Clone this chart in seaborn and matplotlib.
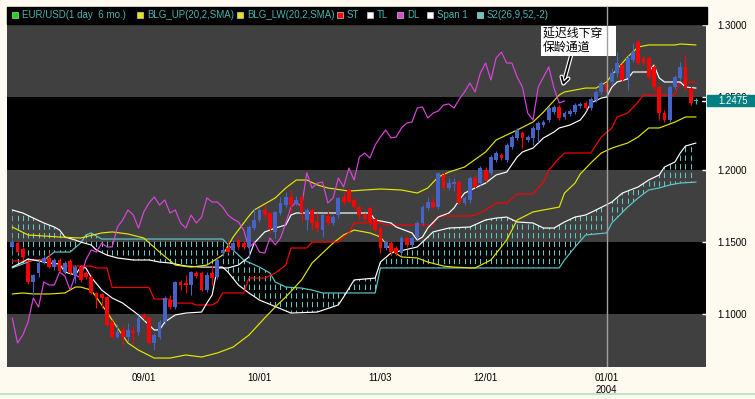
import numpy as np
import pandas as pd
import matplotlib
matplotlib.use("Agg")
import matplotlib.pyplot as plt
import seaborn as sns
from matplotlib.path import Path
from matplotlib.patches import Rectangle
from matplotlib.lines import Line2D
from matplotlib.transforms import Bbox
import matplotlib.patheffects as pe

W, H = 755, 399

# ---- data -------------------------------------------------------------
days = pd.bdate_range("2003-07-28", "2004-01-26")
tick_dates = ["2003-09-01", "2003-10-01", "2003-11-03", "2003-12-01", "2004-01-01"]
tick_labels = ["09/01", "10/01", "11/03", "12/01", "01/01\n2004"]
price_ticks = [1.10, 1.15, 1.20, 1.25, 1.30]
last_price = 1.2475
lag = 25

open_ = [1.1465, 1.1492, 1.1451, 1.1354, 1.1223, 1.1285, 1.1361, 1.1389, 1.1326, 1.1375,
         1.1292, 1.1368, 1.1271, 1.1326, 1.1285, 1.1257, 1.1147, 1.1140, 1.1119, 1.0946,
         1.0842, 1.0891, 1.0842, 1.0884, 1.0877, 1.0995, 1.0974, 1.0801, 1.0842, 1.0946,
         1.1098, 1.1050, 1.1223, 1.1216, 1.1202, 1.1285, 1.1285, 1.1167, 1.1285, 1.1257,
         1.1423, 1.1458, 1.1444, 1.1513, 1.1492, 1.1465, 1.1596, 1.1652, 1.1721, 1.1700,
         1.1569, 1.1700, 1.1755, 1.1811, 1.1769, 1.1811, 1.1652, 1.1721, 1.1638, 1.1582,
         1.1679, 1.1631, 1.1686, 1.1811, 1.1859, 1.1790, 1.1741, 1.1686, 1.1735, 1.1658,
         1.1596, 1.1458, 1.1492, 1.1458, 1.1423, 1.1527, 1.1479, 1.1534, 1.1631, 1.1735,
         1.1776, 1.1741, 1.1963, 1.1873, 1.1901, 1.1914, 1.1769, 1.1790, 1.1942, 1.1907,
         1.1997, 1.1977, 1.2066, 1.2101, 1.2066, 1.2156, 1.2219, 1.2253, 1.2205, 1.2219,
         1.2274, 1.2308, 1.2343, 1.2398, 1.2433, 1.2364, 1.2385, 1.2398, 1.2440, 1.2461,
         1.2426, 1.2481, 1.2537, 1.2599, 1.2606, 1.2668, 1.2723, 1.2634, 1.2758, 1.2883,
         1.2772, 1.2772, 1.2710, 1.2571, 1.2391, 1.2343, 1.2571, 1.2634, 1.2710, 1.2564,
         1.2474]
high = [1.1520, 1.1513, 1.1465, 1.1368, 1.1278, 1.1375, 1.1403, 1.1430, 1.1389, 1.1389,
        1.1368, 1.1382, 1.1340, 1.1340, 1.1299, 1.1271, 1.1153, 1.1147, 1.1126, 1.0960,
        1.0932, 1.0925, 1.0939, 1.0925, 1.0995, 1.1008, 1.0988, 1.0870, 1.0960, 1.1126,
        1.1133, 1.1230, 1.1237, 1.1271, 1.1299, 1.1299, 1.1299, 1.1292, 1.1340, 1.1389,
        1.1472, 1.1513, 1.1513, 1.1534, 1.1506, 1.1617, 1.1735, 1.1735, 1.1755, 1.1707,
        1.1714, 1.1811, 1.1845, 1.1859, 1.1818, 1.1824, 1.1735, 1.1741, 1.1700, 1.1700,
        1.1721, 1.1686, 1.1811, 1.1845, 1.1873, 1.1804, 1.1755, 1.1700, 1.1748, 1.1672,
        1.1610, 1.1513, 1.1506, 1.1472, 1.1541, 1.1541, 1.1541, 1.1645, 1.1755, 1.1811,
        1.1811, 1.1983, 1.1983, 1.1942, 1.1942, 1.1928, 1.1818, 1.1956, 1.1963, 1.2025,
        1.2018, 1.2101, 1.2129, 1.2115, 1.2184, 1.2239, 1.2288, 1.2267, 1.2239, 1.2302,
        1.2336, 1.2343, 1.2440, 1.2447, 1.2447, 1.2405, 1.2419, 1.2461, 1.2468, 1.2474,
        1.2502, 1.2551, 1.2613, 1.2620, 1.2703, 1.2813, 1.2737, 1.2793, 1.2876, 1.2903,
        1.2786, 1.2786, 1.2723, 1.2585, 1.2412, 1.2585, 1.2654, 1.2744, 1.2793, 1.2578,
        1.2495]
low = [1.1444, 1.1423, 1.1375, 1.1209, 1.1133, 1.1257, 1.1347, 1.1320, 1.1306, 1.1292,
       1.1278, 1.1278, 1.1216, 1.1223, 1.1243, 1.1140, 1.1043, 1.1043, 1.0918, 1.0835,
       1.0835, 1.0787, 1.0808, 1.0794, 1.0856, 1.0960, 1.0794, 1.0752, 1.0829, 1.0932,
       1.1036, 1.1036, 1.1167, 1.1147, 1.1133, 1.1250, 1.1160, 1.1153, 1.1202, 1.1243,
       1.1403, 1.1423, 1.1430, 1.1451, 1.1451, 1.1389, 1.1582, 1.1638, 1.1665, 1.1562,
       1.1527, 1.1686, 1.1741, 1.1700, 1.1755, 1.1638, 1.1582, 1.1582, 1.1569, 1.1534,
       1.1617, 1.1617, 1.1665, 1.1755, 1.1769, 1.1728, 1.1652, 1.1645, 1.1610, 1.1569,
       1.1423, 1.1444, 1.1409, 1.1409, 1.1409, 1.1465, 1.1465, 1.1520, 1.1617, 1.1721,
       1.1735, 1.1728, 1.1859, 1.1859, 1.1852, 1.1762, 1.1755, 1.1769, 1.1873, 1.1894,
       1.1914, 1.1963, 1.2053, 1.2066, 1.2053, 1.2143, 1.2205, 1.2149, 1.2191, 1.2170,
       1.2191, 1.2295, 1.2329, 1.2385, 1.2343, 1.2350, 1.2371, 1.2385, 1.2426, 1.2412,
       1.2412, 1.2468, 1.2523, 1.2523, 1.2585, 1.2640, 1.2606, 1.2551, 1.2744, 1.2723,
       1.2723, 1.2620, 1.2551, 1.2343, 1.2329, 1.2329, 1.2557, 1.2620, 1.2551, 1.2447,
       1.2454]
close = [1.1499, 1.1430, 1.1396, 1.1223, 1.1271, 1.1354, 1.1389, 1.1326, 1.1375, 1.1299,
         1.1354, 1.1285, 1.1326, 1.1237, 1.1257, 1.1147, 1.1112, 1.1112, 1.0925, 1.0842,
         1.0877, 1.0842, 1.0891, 1.0870, 1.0974, 1.0974, 1.0801, 1.0856, 1.0946, 1.1112,
         1.1050, 1.1223, 1.1202, 1.1202, 1.1292, 1.1264, 1.1167, 1.1271, 1.1250, 1.1375,
         1.1444, 1.1430, 1.1492, 1.1465, 1.1465, 1.1603, 1.1652, 1.1721, 1.1686, 1.1596,
         1.1707, 1.1769, 1.1811, 1.1755, 1.1790, 1.1700, 1.1721, 1.1631, 1.1596, 1.1686,
         1.1631, 1.1672, 1.1804, 1.1776, 1.1776, 1.1741, 1.1686, 1.1658, 1.1638, 1.1582,
         1.1458, 1.1499, 1.1430, 1.1423, 1.1527, 1.1479, 1.1527, 1.1631, 1.1741, 1.1776,
         1.1741, 1.1977, 1.1873, 1.1907, 1.1914, 1.1769, 1.1804, 1.1942, 1.1880, 1.2011,
         1.1928, 1.2087, 1.2115, 1.2080, 1.2170, 1.2226, 1.2274, 1.2219, 1.2226, 1.2288,
         1.2322, 1.2329, 1.2426, 1.2433, 1.2357, 1.2391, 1.2405, 1.2447, 1.2454, 1.2426,
         1.2488, 1.2537, 1.2599, 1.2537, 1.2668, 1.2737, 1.2620, 1.2772, 1.2813, 1.2737,
         1.2737, 1.2640, 1.2571, 1.2391, 1.2343, 1.2571, 1.2640, 1.2710, 1.2564, 1.2461,
         1.2475]

# indicator lines, read as (day index, price) vertices
up_day = [0, 3, 9, 13, 17, 19, 22, 25, 28, 31, 34, 37, 40, 42, 45, 46, 50, 52, 54, 56,
          58, 60, 64, 70, 74, 77, 79, 81, 83, 86, 90, 92, 96, 99, 101, 104, 105, 109, 111, 113,
          114, 117, 119, 121, 126, 127, 130]
up_val = [1.1603, 1.1548, 1.1534, 1.1527, 1.1562, 1.1569, 1.1555, 1.1527, 1.1430, 1.1340,
          1.1326, 1.1340, 1.1409, 1.1534, 1.1679, 1.1721, 1.1804, 1.1873, 1.1928, 1.1928,
          1.1894, 1.1873, 1.1852, 1.1866, 1.1859, 1.1838, 1.1873, 1.1949, 1.1983, 1.2018,
          1.2122, 1.2205, 1.2274, 1.2329, 1.2398, 1.2516, 1.2537, 1.2564, 1.2564, 1.2606,
          1.2654, 1.2779, 1.2848, 1.2862, 1.2862, 1.2869, 1.2862]

lw_day = [0, 2, 4, 7, 10, 12, 13, 15, 18, 20, 22, 24, 27, 30, 33, 36, 39, 42, 43, 45,
          48, 50, 52, 55, 57, 59, 61, 63, 65, 68, 70, 72, 74, 77, 79, 82, 84, 87, 88, 91,
          94, 96, 99, 101, 104, 105, 107, 108, 110, 112, 114, 117, 119, 121, 123, 126, 128, 130]
lw_val = [1.1140, 1.1147, 1.1140, 1.1140, 1.1147, 1.1188, 1.1188, 1.1167, 1.1015, 1.0905,
          1.0801, 1.0752, 1.0697, 1.0697, 1.0718, 1.0704, 1.0732, 1.0773, 1.0801, 1.0856,
          1.0974, 1.1050, 1.1119, 1.1237, 1.1354, 1.1423, 1.1492, 1.1548, 1.1582, 1.1562,
          1.1534, 1.1444, 1.1396, 1.1389, 1.1361, 1.1333, 1.1326, 1.1320, 1.1320, 1.1375,
          1.1513, 1.1652, 1.1707, 1.1721, 1.1741, 1.1838, 1.1907, 1.1970, 1.2046, 1.2115,
          1.2149, 1.2184, 1.2226, 1.2288, 1.2288, 1.2329, 1.2364, 1.2364]

st_day = [0, 3, 4, 7, 8, 15, 16, 18, 19, 26, 27, 30, 31, 34, 35, 38, 39, 40, 44, 45,
          48, 50, 52, 53, 56, 57, 62, 63, 64, 65, 70, 71, 80, 81, 87, 88, 90, 92, 94, 96,
          99, 101, 102, 104, 105, 110, 112, 114, 115, 117, 119, 120, 126, 127, 130]
st_val = [1.1368, 1.1368, 1.1375, 1.1375, 1.1333, 1.1333, 1.1320, 1.1320, 1.1185, 1.1185,
          1.1105, 1.1105, 1.1077, 1.1077, 1.1064, 1.1064, 1.1084, 1.1147, 1.1147, 1.1250,
          1.1250, 1.1285, 1.1340, 1.1458, 1.1458, 1.1499, 1.1499, 1.1534, 1.1562, 1.1631,
          1.1631, 1.1617, 1.1617, 1.1679, 1.1679, 1.1686, 1.1721, 1.1769, 1.1769, 1.1831,
          1.1831, 1.1914, 1.1997, 1.2080, 1.2115, 1.2115, 1.2226, 1.2288, 1.2364, 1.2391,
          1.2468, 1.2516, 1.2516, 1.2606, 1.2606]

tl_day = [0, 2, 3, 7, 9, 10, 12, 13, 14, 15, 17, 19, 21, 24, 25, 27, 28, 29, 31, 33,
          36, 37, 38, 39, 41, 43, 45, 46, 48, 50, 52, 53, 54, 65, 68, 69, 72, 73, 76, 77,
          78, 79, 81, 83, 84, 85, 86, 88, 90, 92, 94, 96, 97, 99, 101, 103, 104, 106, 108, 109,
          110, 112, 113, 114, 115, 117, 118, 121, 122, 123, 124, 127, 128, 130]
tl_val = [1.1326, 1.1361, 1.1382, 1.1354, 1.1347, 1.1292, 1.1271, 1.1326, 1.1320, 1.1257,
          1.1167, 1.1112, 1.1077, 1.0995, 1.0960, 1.0891, 1.0891, 1.0946, 1.0995, 1.1008,
          1.1015, 1.1077, 1.1133, 1.1320, 1.1320, 1.1340, 1.1396, 1.1492, 1.1569, 1.1596,
          1.1617, 1.1686, 1.1700, 1.1700, 1.1700, 1.1652, 1.1631, 1.1603, 1.1562, 1.1513,
          1.1534, 1.1596, 1.1672, 1.1700, 1.1735, 1.1790, 1.1838, 1.1873, 1.1907, 1.1963,
          1.1983, 1.2087, 1.2122, 1.2149, 1.2219, 1.2260, 1.2288, 1.2308, 1.2343, 1.2391,
          1.2461, 1.2495, 1.2502, 1.2571, 1.2606, 1.2627, 1.2675, 1.2675, 1.2723, 1.2634,
          1.2606, 1.2606, 1.2571, 1.2564]

s1_day = [0, 2, 4, 6, 8, 9, 10, 12, 13, 15, 16, 18, 20, 23, 26, 28, 30, 33, 36, 40,
          41, 43, 45, 47, 53, 58, 62, 63, 65, 69, 70, 72, 77, 79, 80, 83, 87, 90, 92, 94,
          96, 99, 101, 103, 105, 107, 109, 111, 114, 116, 119, 121, 123, 124, 126, 127, 128, 130]
s1_val = [1.1721, 1.1700, 1.1665, 1.1631, 1.1603, 1.1582, 1.1534, 1.1513, 1.1499, 1.1479,
          1.1444, 1.1409, 1.1389, 1.1375, 1.1375, 1.1361, 1.1354, 1.1333, 1.1326, 1.1326,
          1.1292, 1.1202, 1.1147, 1.1098, 1.1008, 1.1015, 1.1064, 1.1119, 1.1237, 1.1250,
          1.1361, 1.1423, 1.1465, 1.1534, 1.1569, 1.1596, 1.1603, 1.1652, 1.1665, 1.1672,
          1.1638, 1.1631, 1.1596, 1.1596, 1.1638, 1.1672, 1.1686, 1.1721, 1.1776, 1.1838,
          1.1880, 1.1928, 1.1963, 1.2018, 1.2053, 1.2115, 1.2163, 1.2184]

s2_day = [0, 3, 4, 6, 8, 11, 13, 14, 15, 17, 40, 42, 44, 47, 49, 50, 52, 55, 57, 59,
          63, 69, 70, 104, 105, 107, 109, 113, 114, 117, 119, 121, 123, 125, 127, 130]
s2_val = [1.1320, 1.1361, 1.1375, 1.1375, 1.1430, 1.1430, 1.1492, 1.1548, 1.1562, 1.1520,
          1.1520, 1.1444, 1.1375, 1.1326, 1.1285, 1.1223, 1.1188, 1.1181, 1.1167, 1.1147,
          1.1147, 1.1147, 1.1320, 1.1320, 1.1375, 1.1465, 1.1548, 1.1562, 1.1631, 1.1741,
          1.1804, 1.1859, 1.1873, 1.1894, 1.1907, 1.1914]

note_text = "延迟线下穿\u3000\n保龄通道"
note_at = (104.7, 1.2585)

# ---- style ------------------------------------------------------------
sns.set_style("dark")
plt.rcParams["font.family"] = ["Liberation Sans", "Noto Sans CJK SC"]
plt.rcParams["lines.scale_dashes"] = False

BG = "#FFFAF0"
GREY = "#404040"
BLUE = "#4664C8"
RED = "#FF0000"
YELLOW = "#E6E600"
MAGENTA = "#DD44DD"
CYAN = "#5FC8C8"
LEGEND_TXT = "#4CB4B4"

fig = plt.figure(figsize=(W / 100, H / 100), dpi=100, facecolor=BG)
ax = fig.add_axes([7 / W, 1 - 367 / H, 699 / W, 343 / H])
ax.set_facecolor("black")
ymin, ymax = 1.0635, 1.3007

for lo, hi in [(1.25, ymax), (1.15, 1.20), (ymin, 1.10)]:
    ax.axhspan(lo, hi, color=GREY, lw=0, zorder=0)

x = np.arange(len(days))

# cloud: dashed verticals clipped between span 1 and span 2
cloud = Path(np.column_stack([s1_day + s2_day[::-1], s1_val + s2_val[::-1]]))
hatch = ax.vlines(x, ymin, ymax, colors=CYAN, lw=0.75,
                  linestyles=[(0, (3.8, 2.4))], zorder=1)
hatch.set_clip_path(cloud, ax.transData)


def draw(xs, ys, color, lw=0.85):
    sns.lineplot(x=xs, y=ys, color=color, linewidth=lw, ax=ax, sort=False,
                 estimator=None, legend=False, zorder=2)


draw(s2_day, s2_val, CYAN)
draw(s1_day, s1_val, "white")
draw(up_day, up_val, YELLOW)
draw(lw_day, lw_val, YELLOW)
draw(st_day, st_val, RED)
draw(tl_day, tl_val, "white")
draw(list(x[:len(close) - lag]), close[lag:], MAGENTA)

# candles
o, h, l, c = map(np.array, (open_, high, low, close))
col = np.where(c >= o, BLUE, RED).astype(object)
col[-1] = "#22C8C8"
ax.vlines(x, l, h, colors=col, lw=0.8, zorder=3)
ax.bar(x, np.maximum(np.abs(c - o), 0.0006), bottom=np.minimum(o, c),
       width=0.72, color=col, lw=0, zorder=4)

sep = days.get_loc(pd.Timestamp("2004-01-01"))
ax.axvline(sep, color="#A0A0A0", lw=1, zorder=6)
ax.axhline(last_price, xmin=0.994, xmax=1, color="white", lw=1, zorder=6)

ax.annotate(note_text, xy=note_at, xytext=(543, H - 28), textcoords="figure pixels",
            ha="left", va="top", fontsize=8.6, family=["Noto Sans CJK SC"],
            linespacing=1.0, color="black",
            bbox=dict(boxstyle="square,pad=0.15", fc="white", ec="none"),
            arrowprops=dict(arrowstyle="->,head_length=0.5,head_width=0.3", color="black",
                            lw=1.3, relpos=(0.4, 0.0), shrinkA=0, shrinkB=0,
                            path_effects=[pe.withStroke(linewidth=3, foreground="white")]),
            zorder=5, annotation_clip=False)

ax.set_xlim(-1.0, 131.9)
ax.set_ylim(ymin, ymax)
ax.set_xlabel("")
ax.set_ylabel("")
ax.grid(False)
for s in ax.spines.values():
    s.set_visible(False)

ax.yaxis.tick_right()
ax.set_yticks(price_ticks)
ax.set_yticklabels([f"{v:.4f}" for v in price_ticks])
ax.tick_params(axis="y", direction="in", length=3, width=1, color="white",
               labelcolor="black", labelsize=7, pad=8, right=True, left=False)
ax.set_xticks(days.get_indexer(pd.to_datetime(tick_dates)))
ax.set_xticklabels(tick_labels, linespacing=1.25)
ax.tick_params(axis="x", direction="in", length=4, width=1, color="white",
               labelcolor="black", labelsize=7, pad=4)


# ---- figure furniture (pixel positions) --------------------------------
def fx(px):
    return px / W


def fy(py):
    return 1 - py / H


# the 1.2500 label sits mostly behind the last-price box: show only its top
for t in ax.yaxis.get_major_ticks():
    if abs(t.get_loc() - 1.25) < 1e-9:
        t.label2.set_clip_box(Bbox([[700, H - 95], [W, H]]))
        t.label2.set_clip_on(True)

fig.patches.append(Rectangle((fx(7), fy(24)), 700 / W, 17 / H, transform=fig.transFigure,
                             color="black", zorder=1))
sep_px = ax.transData.transform((sep, 1.2))[0]
fig.add_artist(Line2D([sep_px / W] * 2, [fy(24), fy(7)], color="#A0A0A0", lw=1, zorder=3))

legend_items = [(12, "#10DD10", "EUR/USD(1 day  6 mo.)"), (137, YELLOW, "BLG_UP(20,2,SMA)"),
                (237, YELLOW, "BLG_LW(20,2,SMA)"), (337, RED, "ST"), (367, "white", "TL"),
                (397, MAGENTA, "DL"), (427, "white", "Span 1"), (477, CYAN, "S2(26,9,52,-2)")]
for px, color, label in legend_items:
    fig.patches.append(Rectangle((fx(px), fy(18)), 6 / W, 6 / H, transform=fig.transFigure,
                                 fc=color, ec="#C8C8C8", lw=0.5, zorder=2))
    fig.text(fx(px + 10), fy(15.5), label, color=LEGEND_TXT, fontsize=7, va="center",
             ha="left", zorder=2)

fig.patches.append(Rectangle((fx(707), fy(106)), 48 / W, 11 / H, transform=fig.transFigure,
                             color="#008080", zorder=2))
fig.text(fx(718), fy(101), f"{last_price:.4f}", color="white", fontsize=7, va="center",
         ha="left", zorder=3)
fig.add_artist(Line2D([0, 1], [fy(394)] * 2, color="#BFE3C3", lw=1.5, zorder=1))

fig.savefig("out.png", dpi=100, facecolor=BG)
